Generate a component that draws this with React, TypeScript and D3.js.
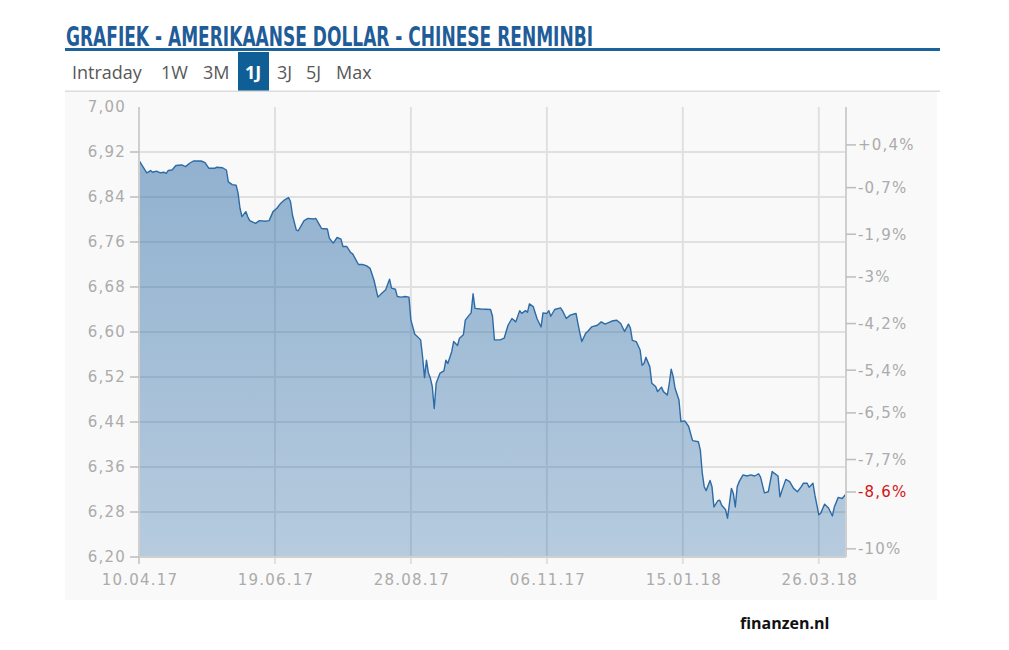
import React, { useEffect, useRef } from "react";
import * as d3 from "d3";

const title = "GRAFIEK - AMERIKAANSE DOLLAR - CHINESE RENMINBI";
const tabs = ["Intraday", "1W", "3M", "1J", "3J", "5J", "Max"];
const activeTab = "1J";
const source = "finanzen.nl";

const startDate = "2017-04-10";
const endDate = "2018-04-09";

// days since 10.04.17
const dayOffsets = [
  0, 2, 4, 6, 7, 9, 11, 13, 14, 15, 17, 19, 22, 24, 26, 28, 32, 34, 36, 39, 40, 43, 45, 46, 48, 50,
  51, 52, 53, 55, 56, 57, 60, 62, 65, 67, 69, 71, 73, 75, 77, 78, 79, 81, 82, 85, 87, 90, 91, 93,
  94, 97, 98, 100, 102, 104, 105, 107, 109, 110, 113, 115, 117, 119, 121, 123, 125, 127, 129, 130,
  132, 133, 135, 137, 139, 140, 142, 143, 145, 146, 147, 148, 149, 150, 151, 152, 153, 155, 157,
  158, 159, 161, 162, 164, 165, 167, 168, 170, 171, 172, 173, 176, 181, 182, 183, 186, 188, 190,
  192, 194, 196, 197, 199, 200, 201, 203, 205, 207, 208, 210, 211, 212, 214, 217, 218, 220, 222,
  224, 225, 226, 227, 228, 230, 231, 233, 236, 238, 240, 242, 244, 246, 248, 250, 252, 253, 254,
  256, 258, 259, 260, 261, 263, 264, 266, 267, 269, 270, 272, 273, 274, 275, 276, 278, 279, 281,
  283, 285, 288, 289, 290, 291, 292, 294, 295, 296, 298, 299, 300, 302, 303, 305, 306, 307, 308,
  309, 311, 313, 315, 317, 319, 320, 322, 324, 326, 327, 329, 330, 331, 333, 335, 337, 339, 341,
  342, 344, 345, 347, 348, 350, 351, 353, 355, 357, 358, 360, 362, 364,
];

const rates = [
  6.905, 6.894, 6.883, 6.887, 6.884, 6.886, 6.883, 6.884, 6.882, 6.887, 6.888, 6.896, 6.897, 6.894,
  6.9, 6.904, 6.904, 6.901, 6.891, 6.891, 6.893, 6.892, 6.888, 6.867, 6.862, 6.861,
  6.847, 6.82, 6.805, 6.814, 6.805, 6.798, 6.793, 6.798, 6.797, 6.798, 6.814, 6.82, 6.829, 6.835,
  6.839, 6.832, 6.808, 6.781, 6.78, 6.798, 6.802, 6.801, 6.802, 6.79,
  6.784, 6.783, 6.767, 6.758, 6.768, 6.765, 6.752, 6.752, 6.741, 6.739, 6.72, 6.72, 6.718, 6.713,
  6.692, 6.662, 6.669, 6.675, 6.694, 6.678,
  6.676, 6.663, 6.662, 6.663, 6.662, 6.621, 6.596, 6.593, 6.586, 6.556, 6.519, 6.55, 6.527, 6.518,
  6.503, 6.464, 6.509, 6.527, 6.531,
  6.55, 6.544, 6.565, 6.583, 6.576, 6.589, 6.595, 6.621, 6.63, 6.634, 6.668, 6.642, 6.641, 6.64,
  6.628, 6.586, 6.586, 6.589, 6.612,
  6.624, 6.618, 6.638, 6.633, 6.638, 6.635, 6.65, 6.645, 6.623, 6.609, 6.634, 6.633, 6.638, 6.628,
  6.64, 6.643, 6.638, 6.624, 6.63,
  6.632, 6.633, 6.615, 6.598, 6.583, 6.598, 6.601, 6.609, 6.612, 6.618, 6.614, 6.617, 6.62, 6.621,
  6.615, 6.601, 6.614, 6.607, 6.585,
  6.583, 6.568, 6.541, 6.544, 6.555, 6.538, 6.509, 6.503, 6.494, 6.502, 6.494, 6.488, 6.508, 6.534,
  6.521, 6.5, 6.479, 6.441, 6.442,
  6.432, 6.407, 6.405, 6.39, 6.349, 6.325, 6.318, 6.336, 6.325, 6.289, 6.3, 6.301, 6.292, 6.284,
  6.269, 6.322, 6.313, 6.289, 6.325,
  6.334, 6.346, 6.344, 6.346, 6.344, 6.348, 6.342, 6.314, 6.316, 6.352, 6.349, 6.344, 6.307, 6.318,
  6.338, 6.334, 6.322, 6.316, 6.325,
  6.331, 6.331, 6.324, 6.331, 6.31, 6.275, 6.278, 6.294, 6.287, 6.273, 6.289, 6.306, 6.304, 6.312,
];

const yTicks = [6.2, 6.28, 6.36, 6.44, 6.52, 6.6, 6.68, 6.76, 6.84, 6.92, 7.0];
const dateTicks = ["2017-04-10", "2017-06-19", "2017-08-28", "2017-11-06", "2018-01-15", "2018-03-26"];
const pctTicks = [0.4, -0.7, -1.9, -3, -4.2, -5.4, -6.5, -7.7, -10];

export default function App() {
  const ref = useRef<SVGSVGElement>(null);

  useEffect(() => {
    const svg = d3.select(ref.current);
    svg.selectAll("*").remove();

    const W = 1009;
    const H = 650;
    const plot = { left: 139, right: 846, top: 107, bottom: 557 };
    const labelFont = "'DejaVu Sans', Verdana, sans-serif";
    const labelColor = "#ababab";
    const gridColor = "#e0e0e0";

    svg.attr("width", W).attr("height", H).attr("viewBox", `0 0 ${W} ${H}`);

    svg.append("rect").attr("width", W).attr("height", H).attr("fill", "#fff");

    // header
    svg
      .append("text")
      .attr("x", 66)
      .attr("y", 46)
      .attr("fill", "#1f5c98")
      .style("font-family", "'Liberation Sans Narrow', 'DejaVu Sans Condensed', sans-serif")
      .style("font-weight", "bold")
      .style("font-size", "27px")
      .attr("textLength", 527)
      .attr("lengthAdjust", "spacingAndGlyphs")
      .text(title);

    svg.append("rect").attr("x", 65).attr("y", 48).attr("width", 875).attr("height", 3).attr("fill", "#1b6399");

    const tabX = [72, 161, 203, 245, 277, 306, 336];
    svg.append("rect").attr("x", 238).attr("y", 52).attr("width", 31).attr("height", 39).attr("fill", "#0f5f96");
    svg
      .append("g")
      .selectAll("text")
      .data(tabs)
      .join("text")
      .attr("x", (_, i) => tabX[i])
      .attr("y", 79)
      .attr("fill", (d) => (d === activeTab ? "#fff" : "#585858"))
      .style("font-family", "'Open Sans', sans-serif")
      .style("font-size", "18px")
      .style("font-weight", (d) => (d === activeTab ? "bold" : "normal"))
      .text((d) => d);

    svg.append("rect").attr("x", 65).attr("y", 90.5).attr("width", 875).attr("height", 1.5).attr("fill", "#dcdcdc");

    // chart background
    svg.append("rect").attr("x", 65).attr("y", 92).attr("width", 872).attr("height", 508).attr("fill", "#f9f9f9");

    const parse = d3.utcParse("%Y-%m-%d");
    const start = parse(startDate)!;
    const x = d3.scaleUtc().domain([start, parse(endDate)!]).range([plot.left, plot.right]);
    const y = d3.scaleLinear().domain([6.2, 7.0]).range([plot.bottom, plot.top]);

    const series = dayOffsets.map((d, i) => ({ date: d3.utcDay.offset(start, d), value: rates[i] }));
    const base = rates[0];
    const pctToValue = (p: number) => base * (1 + p / 100);

    // grid
    const grid = svg.append("g");
    grid
      .selectAll("line.h")
      .data(yTicks.filter((t) => t > 6.2 && t < 7.0))
      .join("line")
      .attr("x1", plot.left)
      .attr("x2", plot.right)
      .attr("y1", (d) => y(d))
      .attr("y2", (d) => y(d))
      .attr("stroke", gridColor)
      .attr("stroke-width", 2);
    grid
      .selectAll("line.v")
      .data(dateTicks.slice(1))
      .join("line")
      .attr("x1", (d) => x(parse(d)!))
      .attr("x2", (d) => x(parse(d)!))
      .attr("y1", plot.top)
      .attr("y2", plot.bottom + 7)
      .attr("stroke", gridColor)
      .attr("stroke-width", 2);

    // area + line
    const defs = svg.append("defs");
    const grad = defs
      .append("linearGradient")
      .attr("id", "areaFill")
      .attr("gradientUnits", "userSpaceOnUse")
      .attr("x1", 0)
      .attr("x2", 0)
      .attr("y1", plot.top)
      .attr("y2", plot.bottom);
    grad.append("stop").attr("offset", "0%").attr("stop-color", "#2f6ea8").attr("stop-opacity", 0.54);
    grad.append("stop").attr("offset", "100%").attr("stop-color", "#2f6ea8").attr("stop-opacity", 0.33);

    const area = d3
      .area<{ date: Date; value: number }>()
      .x((d) => x(d.date))
      .y0(plot.bottom)
      .y1((d) => y(d.value));
    const line = d3
      .line<{ date: Date; value: number }>()
      .x((d) => x(d.date))
      .y((d) => y(d.value));

    svg.append("path").datum(series).attr("d", area).attr("fill", "url(#areaFill)");
    svg
      .append("path")
      .datum(series)
      .attr("d", line)
      .attr("fill", "none")
      .attr("stroke", "#2d6ba6")
      .attr("stroke-width", 1.4)
      .attr("stroke-linejoin", "round");

    // axes lines
    const axisColor = "#cfcfcf";
    svg.append("line").attr("x1", plot.left).attr("x2", plot.left).attr("y1", plot.top).attr("y2", plot.bottom + 7).attr("stroke", axisColor).attr("stroke-width", 2);
    svg.append("line").attr("x1", plot.right).attr("x2", plot.right).attr("y1", plot.top).attr("y2", plot.bottom).attr("stroke", axisColor).attr("stroke-width", 2);
    svg.append("line").attr("x1", plot.left).attr("x2", plot.right).attr("y1", plot.bottom).attr("y2", plot.bottom).attr("stroke", axisColor).attr("stroke-width", 2);

    const labelStyle = (sel: any) =>
      sel
        .style("font-family", labelFont)
        .style("font-size", "15px")
        .style("letter-spacing", "1.2px")
        .attr("fill", labelColor);

    // left axis
    const fmtNum = d3.format(".2f");
    const left = svg.append("g");
    left
      .selectAll("line")
      .data(yTicks.filter((t) => t < 7.0))
      .join("line")
      .attr("x1", plot.left - 9)
      .attr("x2", plot.left)
      .attr("y1", (d) => y(d))
      .attr("y2", (d) => y(d))
      .attr("stroke", "#bdbdbd")
      .attr("stroke-width", 1.5);
    left
      .selectAll("text")
      .data(yTicks)
      .join("text")
      .attr("x", 126)
      .attr("y", (d) => y(d))
      .attr("dy", "0.36em")
      .attr("text-anchor", "end")
      .call(labelStyle)
      .text((d) => fmtNum(d).replace(".", ","));

    // bottom axis
    const fmtDate = d3.utcFormat("%d.%m.%y");
    svg
      .append("g")
      .selectAll("text")
      .data(dateTicks)
      .join("text")
      .attr("x", (d) => x(parse(d)!) + 1)
      .attr("y", 585)
      .attr("text-anchor", "middle")
      .call(labelStyle)
      .text((d) => fmtDate(parse(d)!));

    // right axis (percent change)
    const fmtPct = (p: number) => (p > 0 ? "+" : "") + String(p).replace(".", ",") + "%";
    const right = svg.append("g");
    right
      .selectAll("line")
      .data(pctTicks)
      .join("line")
      .attr("x1", plot.right)
      .attr("x2", plot.right + 10)
      .attr("y1", (d) => y(pctToValue(d)))
      .attr("y2", (d) => y(pctToValue(d)))
      .attr("stroke", "#bdbdbd")
      .attr("stroke-width", 1.5);
    right
      .selectAll("text")
      .data(pctTicks)
      .join("text")
      .attr("x", plot.right + 12)
      .attr("y", (d) => y(pctToValue(d)))
      .attr("dy", "0.36em")
      .call(labelStyle)
      .text((d) => fmtPct(d));

    const last = rates[rates.length - 1];
    const lastPct = +((last / base - 1) * 100).toFixed(1);
    right
      .append("line")
      .attr("x1", plot.right)
      .attr("x2", plot.right + 10)
      .attr("y1", y(last) - 2)
      .attr("y2", y(last) - 2)
      .attr("stroke", "#bdbdbd")
      .attr("stroke-width", 1.5);
    right
      .append("text")
      .attr("x", plot.right + 12)
      .attr("y", y(last) - 2)
      .attr("dy", "0.36em")
      .call(labelStyle)
      .attr("fill", "#d21414")
      .text(fmtPct(lastPct));

    // source
    svg
      .append("text")
      .attr("x", 740)
      .attr("y", 629)
      .attr("fill", "#111")
      .style("font-family", "'Open Sans', sans-serif")
      .style("font-weight", "bold")
      .style("font-size", "16px")
      .text(source);
  }, []);

  return <svg ref={ref} style={{ position: "absolute", left: 0, top: 0, display: "block" }} />;
}
